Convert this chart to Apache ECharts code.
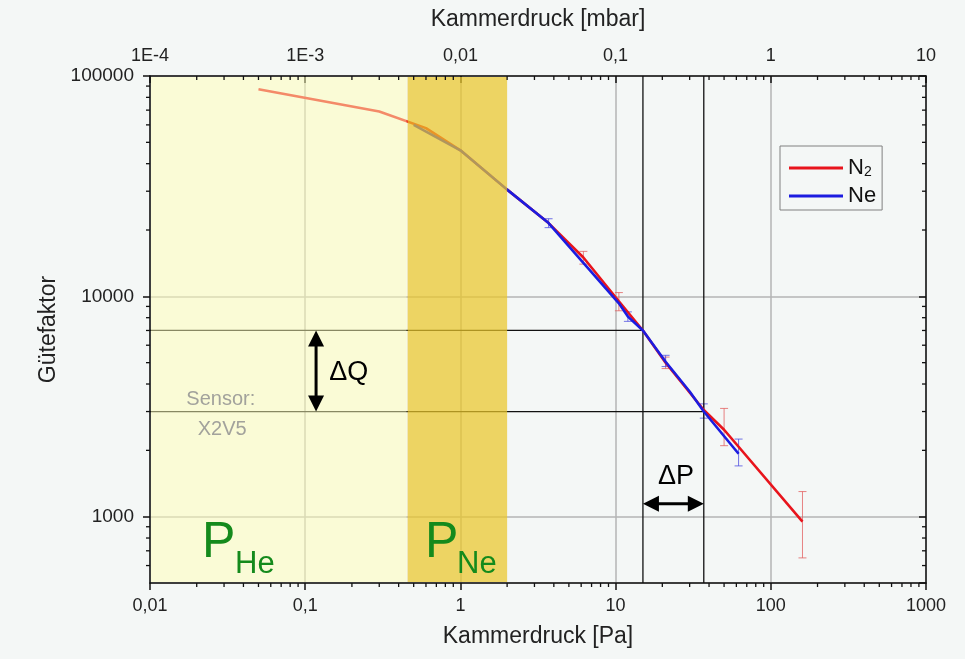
<!DOCTYPE html>
<html><head><meta charset="utf-8">
<script src="https://cdn.jsdelivr.net/npm/echarts@6/dist/echarts.min.js"></script>
<style>html,body{margin:0;padding:0;background:#f4f7f6}#c{width:965px;height:659px}</style>
</head><body><div id="c"></div>
<script>
// ---- tick labels ----
const paTickLabels = ['0,01', '0,1', '1', '10', '100', '1000'];
const mbarTickLabels = ['1E-4', '1E-3', '0,01', '0,1', '1', '10'];
const qTickLabels = ['1000', '10000', '100000'];

// ---- axis ranges ----
const X_MIN = 0.01, X_MAX = 1000;
const MBAR_MIN = 0.0001, MBAR_MAX = 10;
const Y_MIN = 500, Y_MAX = 100000;

// ---- N2 series ----
const n2Pa    = [0.05, 0.3, 0.6, 1.0, 2.0, 3.7, 6.2, 10.5, 15, 21, 37, 50, 160];
const n2Q     = [87000, 69000, 58000, 46000, 30500, 21500, 15000, 9500, 7000, 5000, 3050, 2480, 950];
const n2ErrLo = [null, null, null, null, null, null, 14000, 8600, null, 4700, null, 2100, 650];
const n2ErrHi = [null, null, null, null, null, null, 16000, 10400, null, 5300, null, 3100, 1300];

// ---- Ne series ----
const nePa    = [0.5, 1.0, 2.0, 3.7, 6.2, 10.5, 12, 15, 21, 30, 37, 62];
const neQ     = [60000, 46000, 30500, 21500, 14200, 9300, 8100, 7000, 5050, 3700, 3000, 1930];
const neErrLo = [null, null, null, 20500, null, null, 7700, null, 4800, null, 2800, 1700];
const neErrHi = [null, null, null, 22500, null, null, 8500, null, 5400, null, 3250, 2250];

// ---- shaded pressure ranges ----
const heRange = [0.01, 0.45];
const neRange = [0.45, 2.0];

// ---- delta markers ----
const dpLo = 15, dpHi = 37;     // Pa
const dqLo = 3000, dqHi = 7000; // quality factor
const dqArrowPa = 0.1175;
const dpArrowQ = 1146;

const minorMult = [2, 3, 4, 5, 6, 7, 8, 9];

const FONT = 'Liberation Sans, Arial, sans-serif';

function logIdx(v, minExp) { return Math.round(Math.log10(v)) - minExp; }

const pts = (xs, ys) => xs.map((x, i) => [x, ys[i]]);
const errData = (xs, lo, hi) => xs.map((x, i) => lo[i] == null ? null : [x, lo[i], hi[i]]).filter(Boolean);

// minor tick data
const minorData = [];
for (let e = -2; e < 3; e++) minorMult.forEach(m => minorData.push([m * Math.pow(10, e), Y_MIN, 0]));
for (let e = 2; e < 5; e++) minorMult.forEach(m => { const v = m * Math.pow(10, e); if (v > Y_MIN && v < Y_MAX) minorData.push([X_MIN, v, 1]); });

const chart = echarts.init(document.getElementById('c'), null, { renderer: 'canvas' });

const axisLineStyle = { color: '#111', width: 1.5 };
const splitStyle = { show: true, lineStyle: { color: '#b4b4b4', width: 1.5 } };

function errRender(color) {
  return function (params, api) {
    const a = api.coord([api.value(0), api.value(1)]);
    const b = api.coord([api.value(0), api.value(2)]);
    const st = { stroke: color, lineWidth: 1 };
    return { type: 'group', children: [
      { type: 'line', shape: { x1: a[0], y1: a[1], x2: b[0], y2: b[1] }, style: st },
      { type: 'line', shape: { x1: a[0] - 4, y1: a[1], x2: a[0] + 4, y2: a[1] }, style: st },
      { type: 'line', shape: { x1: b[0] - 4, y1: b[1], x2: b[0] + 4, y2: b[1] }, style: st }
    ] };
  };
}

function refLine(data) {
  return { type: 'line', data: data, symbol: 'none', silent: true, z: 2,
    lineStyle: { color: '#111', width: 1.3 }, animation: false };
}

const annotations = [
  { value: [0.143, 4530], text: 'ΔQ', size: 27, color: '#000', align: 'left', va: 'middle' },
  { value: [24.5, 1517], text: 'ΔP', size: 27, color: '#000', align: 'center', va: 'middle' },
  { value: [0.0286, 3420], text: 'Sensor:', size: 20, color: '#a2a29c', align: 'center', va: 'middle' },
  { value: [0.0292, 2500], text: 'X2V5', size: 20, color: '#a2a29c', align: 'center', va: 'middle' },
  { value: [0.0216, 585], text: 'P', size: 50, color: '#148a1c', align: 'left', va: 'bottom' },
  { value: [0.0353, 515], text: 'He', size: 31, color: '#148a1c', align: 'left', va: 'bottom' },
  { value: [0.592, 585], text: 'P', size: 50, color: '#148a1c', align: 'left', va: 'bottom' },
  { value: [0.951, 515], text: 'Ne', size: 31, color: '#148a1c', align: 'left', va: 'bottom' }
];

const option = {
  animation: false,
  backgroundColor: '#f4f7f6',
  textStyle: { fontFamily: FONT },
  grid: { left: 150, right: 39, top: 76, bottom: 76, show: false },
  legend: {
    data: ['N2', 'Ne'], orient: 'vertical', left: 780, top: 146, icon: 'rect',
    padding: [11, 6, 3, 9], itemWidth: 54, itemHeight: 3, itemGap: 6,
    borderColor: '#808080', borderWidth: 1, backgroundColor: 'rgba(0,0,0,0)',
    formatter: n => n === 'N2' ? '{a|N}{b|2}' : '{a|Ne}',
    textStyle: { fontFamily: FONT, color: '#111', fontSize: 22,
      rich: { a: { fontSize: 22, lineHeight: 22, fontFamily: FONT, color: '#111' },
              b: { fontSize: 14, lineHeight: 14, fontFamily: FONT, color: '#111', padding: [8, 0, 0, 0] } } }
  },
  xAxis: [
    { type: 'log', min: X_MIN, max: X_MAX, logBase: 10, position: 'bottom',
      name: 'Kammerdruck [Pa]', nameLocation: 'middle', nameGap: 42,
      nameTextStyle: { fontSize: 23, color: '#222', fontFamily: FONT },
      axisLine: { show: true, onZero: false, lineStyle: axisLineStyle },
      axisTick: { show: true, length: 7, lineStyle: { color: '#111', width: 1.5 } },
      axisLabel: { fontSize: 18, color: '#222', margin: 14, fontFamily: FONT,
        formatter: v => paTickLabels[logIdx(v, -2)] },
      splitLine: splitStyle, minorTick: { show: false } },
    { type: 'log', min: MBAR_MIN, max: MBAR_MAX, logBase: 10, position: 'top',
      name: 'Kammerdruck [mbar]', nameLocation: 'middle', nameGap: 45,
      nameTextStyle: { fontSize: 23, color: '#222', fontFamily: FONT },
      axisLine: { show: true, onZero: false, lineStyle: axisLineStyle },
      axisTick: { show: true, inside: true, length: 7, lineStyle: { color: '#111', width: 1.5 } },
      axisLabel: { fontSize: 18, color: '#222', margin: 11, fontFamily: FONT,
        formatter: v => mbarTickLabels[logIdx(v, -4)] },
      splitLine: { show: false } }
  ],
  yAxis: [
    { type: 'log', min: Y_MIN, max: Y_MAX, logBase: 10, position: 'left',
      name: 'Gütefaktor', nameLocation: 'middle', nameGap: 86, nameRotate: 90,
      nameTextStyle: { fontSize: 23, color: '#222', fontFamily: FONT },
      axisLine: { show: true, onZero: false, lineStyle: axisLineStyle },
      axisTick: { show: true, length: 7, lineStyle: { color: '#111', width: 1.5 } },
      axisLabel: { fontSize: 19, color: '#222', margin: 16, fontFamily: FONT, showMinLabel: false,
        formatter: v => { const i = logIdx(v, 3); return Math.abs(Math.log10(v) - Math.round(Math.log10(v))) < 1e-6 ? qTickLabels[i] : ''; } },
      splitLine: splitStyle },
    { type: 'log', min: Y_MIN, max: Y_MAX, logBase: 10, position: 'right',
      axisLine: { show: true, onZero: false, lineStyle: axisLineStyle },
      axisTick: { show: true, inside: true, length: 7, lineStyle: { color: '#111', width: 1.5 } },
      axisLabel: { show: false }, splitLine: { show: false } }
  ],
  series: [
    // reference lines (under shading)
    refLine([[dpLo, Y_MIN], [dpLo, Y_MAX]]),
    refLine([[dpHi, Y_MIN], [dpHi, Y_MAX]]),
    refLine([[X_MIN, dqHi], [dpLo, dqHi]]),
    refLine([[X_MIN, dqLo], [dpHi, dqLo]]),
    // error bars
    { type: 'custom', name: 'errN2', z: 2, silent: true, clip: false,
      data: errData(n2Pa, n2ErrLo, n2ErrHi), encode: { x: 0, y: [1, 2] },
      renderItem: errRender('rgba(225,90,90,0.75)') },
    { type: 'custom', name: 'errNe', z: 2, silent: true, clip: false,
      data: errData(nePa, neErrLo, neErrHi), encode: { x: 0, y: [1, 2] },
      renderItem: errRender('rgba(80,80,225,0.8)') },
    // data lines
    { type: 'line', name: 'N2', data: pts(n2Pa, n2Q), symbol: 'none', z: 2,
      lineStyle: { color: '#e8141c', width: 2.6 }, itemStyle: { color: '#e8141c' } },
    { type: 'line', name: 'Ne', data: pts(nePa, neQ), symbol: 'none', z: 2,
      lineStyle: { color: '#1c1ce0', width: 2.6 }, itemStyle: { color: '#1c1ce0' } },
    // shaded ranges (translucent, over the data)
    { type: 'custom', z: 3, silent: true, clip: false,
      data: [[heRange[0], heRange[1], Y_MIN, Y_MAX, 0], [neRange[0], neRange[1], Y_MIN, Y_MAX, 1]],
      encode: { x: [0, 1], y: [2, 3] },
      renderItem: (params, api) => {
        const a = api.coord([api.value(0), api.value(3)]);
        const b = api.coord([api.value(1), api.value(2)]);
        return { type: 'rect', shape: { x: a[0] + 1, y: a[1] + 1, width: b[0] - a[0] - 1, height: b[1] - a[1] - 2 },
          style: { fill: api.value(4) === 0 ? 'rgba(255,255,182,0.5)' : 'rgba(234,198,42,0.72)' } };
      } },
    // minor ticks
    { type: 'custom', z: 4, silent: true, clip: false, data: minorData, encode: { x: 0, y: 1 },
      renderItem: (params, api) => {
        const st = { stroke: '#111', lineWidth: 1.3 };
        if (api.value(2) === 0) {
          const b = api.coord([api.value(0), Y_MIN]);
          const t = api.coord([api.value(0), Y_MAX]);
          return { type: 'group', children: [
            { type: 'line', shape: { x1: b[0], y1: b[1], x2: b[0], y2: b[1] + 4 }, style: st },
            { type: 'line', shape: { x1: t[0], y1: t[1], x2: t[0], y2: t[1] + 4 }, style: st } ] };
        }
        const l = api.coord([X_MIN, api.value(1)]);
        const r = api.coord([X_MAX, api.value(1)]);
        return { type: 'group', children: [
          { type: 'line', shape: { x1: l[0], y1: l[1], x2: l[0] - 4, y2: l[1] }, style: st },
          { type: 'line', shape: { x1: r[0], y1: r[1], x2: r[0] - 4, y2: r[1] }, style: st } ] };
      } },
    // double arrows
    { type: 'custom', z: 5, silent: true, clip: false,
      data: [[dqArrowPa, dqLo, dqArrowPa, dqHi], [dpLo, dpArrowQ, dpHi, dpArrowQ]],
      encode: { x: [0, 2], y: [1, 3] },
      renderItem: (params, api) => {
        const p1 = api.coord([api.value(0), api.value(1)]);
        const p2 = api.coord([api.value(2), api.value(3)]);
        const dx = p2[0] - p1[0], dy = p2[1] - p1[1];
        const len = Math.sqrt(dx * dx + dy * dy), ux = dx / len, uy = dy / len;
        const H = 16, W = 8, nx = -uy, ny = ux;
        const head = (tip, dir) => ({ type: 'polygon', shape: { points: [
          tip,
          [tip[0] - dir * ux * H + nx * W, tip[1] - dir * uy * H + ny * W],
          [tip[0] - dir * ux * H - nx * W, tip[1] - dir * uy * H - ny * W] ] }, style: { fill: '#000' } });
        return { type: 'group', children: [
          { type: 'line', shape: { x1: p1[0] + ux * H * 0.8, y1: p1[1] + uy * H * 0.8, x2: p2[0] - ux * H * 0.8, y2: p2[1] - uy * H * 0.8 },
            style: { stroke: '#000', lineWidth: 3 } },
          head(p1, -1), head(p2, 1) ] };
      } },
    // annotations
    { type: 'scatter', z: 6, silent: true, symbolSize: 0, itemStyle: { opacity: 1 },
      data: annotations.map(a => ({ value: a.value,
        label: { show: true, position: [0, 0], formatter: a.text, fontSize: a.size, color: a.color, opacity: 1,
          fontFamily: FONT, align: a.align, verticalAlign: a.va } })) }
  ]
};
chart.setOption(option);
</script></body></html>
